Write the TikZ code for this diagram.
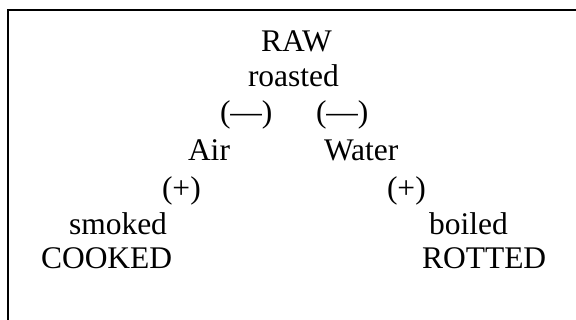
\documentclass[tikz,border=0pt]{standalone}
\usepackage{fontspec}
\setmainfont{Liberation Serif}
\begin{document}
\begin{tikzpicture}[x=1pt,y=-1pt,
  word/.style={font=\fontsize{31.5}{31.5}\selectfont, anchor=base west, inner sep=0pt, outer sep=0pt},
  frame/.style={draw=black, line width=2pt}]
  \useasboundingbox (0,0) rectangle (576,320);
  \clip (0,0) rectangle (576,320);
  % open frame running off the right and bottom edges
  \draw[frame] (7.5,10.5) rectangle (600,340);
  % top of the scheme
  \node[word] (raw) at (261,52) {RAW};
  \node[word] (roasted) at (248,87) {roasted};
  \node[word] (minusL) at (220,123) {(—)};
  \node[word] (minusR) at (316,123) {(—)};
  % the two media
  \node[word] (air) at (188,161) {Air};
  \node[word] (water) at (324,161) {Water};
  \node[word] (plusL) at (162,199) {(+)};
  \node[word] (plusR) at (387,199) {(+)};
  % bottom corners
  \node[word] (smoked) at (69,235) {smoked};
  \node[word] (cooked) at (41,269) {COOKED};
  \node[word] (boiled) at (429,235) {boiled};
  \node[word] (rotted) at (422,269) {ROTTED};
\end{tikzpicture}
\end{document}
